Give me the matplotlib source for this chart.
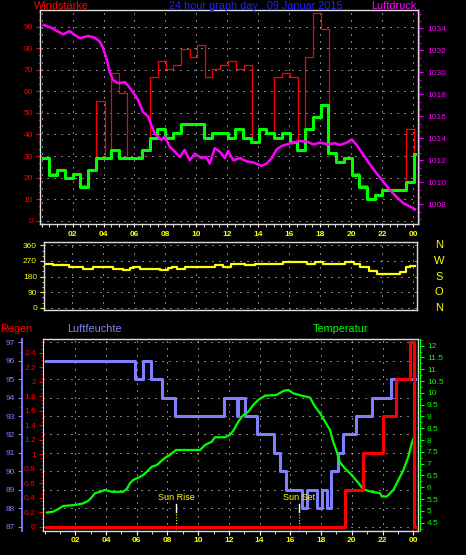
import matplotlib
matplotlib.use('Agg')
from matplotlib import pyplot as plt
from matplotlib.ticker import MultipleLocator, FixedLocator, FixedFormatter
from matplotlib.transforms import blended_transform_factory

plt.rcParams['font.family'] = ['Liberation Sans', 'DejaVu Sans']

# ---- top panel: wind (km/h) and pressure, time in hours ----
wind_time = [0.10, 0.45, 1.0, 1.5, 2.0, 2.5, 3.0, 3.53, 4.5, 5.02,
             6.49, 7.0, 7.48, 8.0, 8.5, 9.03, 10.47, 11.02, 12.03, 12.5,
             13.0, 13.52, 14.04, 14.51, 15.03, 15.54, 16.04, 16.53, 17.03, 17.53,
             18.05, 18.54, 19.04, 19.55, 20.05, 20.54, 21.04, 21.54, 22.03, 23.56,
             24.08, 24.15]
wind_avg = [29.3, 21.2, 23.7, 19.7, 21.5, 15.8, 23.7, 29.2, 32.9, 29.2,
            32.9, 38.5, 42.7, 38.5, 40.8, 44.7, 38.5, 40.8, 38.4, 42.7,
            38.4, 36.7, 42.7, 40.8, 38.4, 40.8, 36.7, 32.8, 42.7, 48.2,
            53.7, 31.3, 27.1, 29.2, 21.2, 15.6, 10.1, 11.9, 14.1, 17.8,
            31.0, 31.0]

gust_time = [0.10, 0.45, 1.0, 1.5, 2.0, 2.5, 3.0, 3.53, 4.07, 4.5,
             5.02, 5.54, 6.49, 7.03, 7.54, 8.06, 8.5, 9.03, 9.57, 10.05,
             10.54, 11.0, 11.53, 12.07, 12.57, 13.07, 13.58, 14.04, 14.51, 15.05,
             15.56, 16.08, 16.58, 17.05, 17.57, 18.08, 18.58, 19.04, 19.55, 20.05,
             20.54, 21.04, 21.54, 22.03, 23.56, 24.1, 24.15]
gust_val = [29.3, 22.2, 24.0, 20.4, 22.2, 16.6, 23.7, 55.4, 29.2, 68.4,
            59.1, 29.2, 33.3, 66.5, 73.9, 70.2, 72.1, 79.5, 75.8, 81.4,
            66.7, 70.2, 72.1, 73.9, 70.2, 72.1, 36.7, 42.7, 40.8, 66.5,
            68.4, 66.5, 32.8, 75.8, 96.3, 88.8, 31.3, 27.5, 29.6, 22.0,
            16.4, 10.7, 12.5, 14.7, 42.4, 31.0, 31.0]

press_time = [0.13, 0.62, 1.05, 1.38, 1.81, 2.13, 2.46, 3.0, 3.43, 3.75,
              3.97, 4.18, 4.4, 4.61, 4.94, 5.37, 5.58, 5.9, 6.23, 6.55,
              6.88, 7.09, 7.31, 7.52, 7.74, 7.95, 8.28, 8.6, 8.93, 9.25,
              9.57, 9.9, 10.33, 10.65, 10.87, 11.19, 11.51, 11.84, 12.05, 12.4,
              12.83, 13.26, 13.69, 14.23, 14.55, 14.88, 15.2, 15.52, 15.85, 16.27,
              16.71, 17.14, 17.57, 18.0, 18.54, 18.97, 19.29, 19.73, 20.05, 20.37,
              20.8, 21.24, 21.67, 22.1, 22.53, 22.96, 23.39, 23.82, 24.15]
press_val = [1024.3, 1024.05, 1023.7, 1023.45, 1023.75, 1023.4, 1023.1, 1023.3, 1023.15, 1022.8,
             1022.2, 1021.3, 1020.05, 1019.3, 1019.0, 1019.1, 1018.8, 1018.2, 1017.5, 1016.4,
             1016.0, 1015.2, 1014.45, 1014.15, 1013.85, 1014.15, 1013.25, 1012.8, 1012.3, 1012.95,
             1012.0, 1012.6, 1012.2, 1012.3, 1011.7, 1013.1, 1012.8, 1012.2, 1012.85, 1012.0,
             1012.2, 1011.9, 1011.8, 1011.5, 1011.7, 1012.2, 1013.0, 1013.3, 1013.45, 1013.6,
             1013.75, 1013.7, 1013.45, 1013.6, 1013.45, 1013.55, 1013.4, 1013.6, 1013.9, 1013.4,
             1012.5, 1011.6, 1010.8, 1010.05, 1009.3, 1008.65, 1008.1, 1007.8, 1007.55]
press_ticks = [1008, 1010, 1012, 1014, 1016, 1018, 1020, 1022, 1024]
press_labels = ['1008', '1010', '1012', '1014', '1016', '1018', '1030', '1032', '1034']

# ---- middle panel: wind direction (deg) ----
dir_time = [0.28, 0.75, 1.77, 2.69, 3.34, 4.63, 5.28, 5.71, 5.93, 6.36,
            7.65, 8.19, 8.41, 8.73, 9.27, 11.21, 11.75, 12.22, 13.15, 13.8,
            15.63, 17.14, 17.68, 18.21, 19.62, 20.16, 20.59, 21.13, 21.67, 23.18,
            23.56, 23.82, 24.15]
dir_val = [252, 248, 236, 224, 236, 224, 215, 228, 236, 224,
           215, 228, 236, 224, 236, 247, 236, 252, 247, 252,
           262, 252, 262, 252, 262, 252, 232, 212, 195, 205,
           232, 241, 241]
compass = ['N', 'W', 'S', 'O', 'N']
compass_deg = [360, 270, 180, 90, 0]

# ---- bottom panel: humidity (%), temperature (C), rain (mm) ----
hum_time = [0.11, 5.87, 6.41, 6.91, 7.64, 8.51, 11.68, 12.51, 12.61, 13.05,
            13.81, 14.95, 15.33, 15.72, 16.74, 17.06, 17.71, 18.04, 18.37, 18.65,
            19.12, 19.45, 20.25, 21.30, 22.55, 24.11]
hum_val = [96, 95, 96, 95, 94, 93, 94, 93, 94, 93,
           92, 91, 90, 89, 88, 89, 88, 89, 88, 90,
           91, 92, 93, 94, 95, 95]

temp_time = [0.14, 0.57, 0.89, 1.22, 1.98, 2.52, 2.85, 3.07, 3.28, 3.61,
             3.93, 4.37, 5.12, 5.35, 5.56, 5.77, 6.10, 6.43, 6.65, 6.97,
             7.30, 7.51, 7.84, 8.16, 8.55, 10.12, 10.44, 10.88, 11.09, 11.74,
             12.07, 12.29, 12.61, 12.94, 13.26, 13.59, 13.91, 14.35, 15.11, 15.54,
             15.87, 16.19, 16.74, 17.28, 17.60, 17.93, 18.26, 18.58, 18.80, 19.0,
             19.21, 19.52, 19.99, 20.42, 20.75, 21.30, 21.84, 21.95, 22.28, 22.71,
             23.03, 23.36, 23.68, 23.90, 24.11]
temp_val = [4.93, 4.97, 5.08, 5.21, 5.25, 5.32, 5.43, 5.58, 5.75, 5.81,
            5.89, 5.81, 5.81, 5.93, 6.17, 6.31, 6.41, 6.52, 6.66, 6.87,
            6.94, 7.06, 7.25, 7.37, 7.58, 7.58, 7.79, 7.93, 8.12, 8.12,
            8.22, 8.40, 8.78, 9.06, 9.20, 9.49, 9.70, 9.88, 9.91, 10.08,
            10.12, 9.98, 9.88, 9.80, 9.42, 9.14, 8.78, 8.43, 7.90, 7.55,
            7.08, 6.82, 6.52, 6.19, 5.91, 5.81, 5.75, 5.61, 5.61, 5.89,
            6.31, 6.73, 7.29, 7.86, 8.22]

rain_time = [0.11, 19.56, 20.75, 22.05, 22.88, 23.82, 24.05, 24.11]
rain_val = [0, 0.51, 1.02, 1.53, 2.04, 2.55, 0, 0]

sun_rise = 8.55
sun_set = 16.58

hour_ticks = list(range(2, 25, 2))
hour_labels = ['%02d' % (h % 24) for h in hour_ticks]

W, H = 466, 555
fig = plt.figure(figsize=(W / 100, H / 100), dpi=100, facecolor='black')


def box(x0, y0, x1, y1):
    return [x0 / W, 1 - y1 / H, (x1 - x0) / W, (y1 - y0) / H]


frame_col = '#dcdcdc'
grid_kw = dict(color='white', linestyle=(0, (1, 6)), linewidth=0.72)
lab_size = 6


def frame(ax):
    ax.set_facecolor('black')
    for s in ax.spines.values():
        s.set_color(frame_col)
        s.set_linewidth(1.0)


def only_spine(ax, side):
    for k, s in ax.spines.items():
        s.set_visible(k == side)


# ---------------- top panel ----------------
ax1 = fig.add_axes(box(40, 10, 418, 224))
frame(ax1)
ax1.step(gust_time, gust_val, where='post', color='red', lw=0.9)
ax1.step(wind_time, wind_avg, where='post', color='#00ff00', lw=2.2)
ax1.set_xlim(-0.11, 24.34)
ax1.set_ylim(-1.53, 97.77)
ax1.xaxis.set_major_locator(MultipleLocator(2))
ax1.xaxis.set_minor_locator(MultipleLocator(0.5))
ax1.yaxis.set_major_locator(MultipleLocator(10))
ax1.yaxis.set_minor_locator(MultipleLocator(10 / 3))
ax1.grid(True, which='major', **grid_kw)
ax1.tick_params(axis='x', which='both', colors='white', length=2.5, labelbottom=False)
ax1.tick_params(axis='y', which='major', colors='red', length=3, pad=2, labelsize=lab_size)
ax1.tick_params(axis='y', which='minor', colors='red', length=1.5)

axp = ax1.twinx()
only_spine(axp, 'right')
axp.spines['right'].set_position(('outward', 0.8))
axp.spines['right'].set_color('#ff00ff')
axp.plot(press_time, press_val, color='#ff00ff', lw=1.8)
axp.set_ylim(1006.21, 1025.66)
axp.yaxis.set_major_locator(FixedLocator(press_ticks))
axp.yaxis.set_major_formatter(FixedFormatter(press_labels))
axp.yaxis.set_minor_locator(MultipleLocator(2 / 3))
axp.tick_params(axis='y', which='major', colors='#ff00ff', length=3, pad=3, labelsize=lab_size)
axp.tick_params(axis='y', which='minor', colors='#ff00ff', length=1.5)

fig.text(34 / W, 1 - 9.3 / H, 'Windstärke', color='red', fontsize=7.8, va='baseline')
fig.text(256 / W, 1 - 9.3 / H, '24 hour graph day : 09 Januar 2015', color='#2020ff',
         fontsize=7.8, va='baseline', ha='center')
fig.text(416 / W, 1 - 9.3 / H, 'Luftdruck', color='#ff00ff', fontsize=7.8, va='baseline', ha='right')

# ---------------- middle panel ----------------
ax2 = fig.add_axes(box(44, 242, 417, 310))
frame(ax2)
ax2.step(dir_time, dir_val, where='post', color='#ffff00', lw=1.6)
ax2.set_xlim(0.17, 24.26)
ax2.set_ylim(-13.2, 379.1)
ax2.xaxis.tick_top()
ax2.set_xticks(hour_ticks)
ax2.set_xticklabels(hour_labels, fontweight='bold')
ax2.yaxis.set_major_locator(MultipleLocator(90))
ax2.yaxis.set_minor_locator(MultipleLocator(30))
ax2.grid(True, which='major', **grid_kw)
ax2.tick_params(axis='x', length=0, pad=3, colors='#ffff00', labelsize=lab_size)
ax2.tick_params(axis='y', which='major', colors='#ffff00', length=3, pad=2, labelsize=lab_size)
ax2.tick_params(axis='y', which='minor', colors='#ffff00', length=1.5)
tr2 = blended_transform_factory(ax2.transAxes, ax2.transData)
for letter, deg in zip(compass, compass_deg):
    ax2.text(1.059, deg, letter, transform=tr2, color='#ffff00', fontsize=8,
             ha='center', va='center')

# ---------------- bottom panel ----------------
ax3 = fig.add_axes(box(42.7, 339, 418, 530.5))
frame(ax3)
ax3.spines['left'].set_position(('outward', 15.1))
ax3.spines['left'].set_color('#8080ff')
ax3.spines['left'].set_linewidth(1.3)
ax3.step(hum_time, hum_val, where='post', color='#8080ff', lw=2.2)
ax3.set_xlim(-0.124, 24.31)
ax3.set_ylim(86.79, 97.18)
ax3.set_xticks(hour_ticks)
ax3.set_xticklabels(hour_labels, fontweight='bold')
ax3.xaxis.set_minor_locator(MultipleLocator(1))
ax3.yaxis.set_major_locator(MultipleLocator(1))
ax3.yaxis.set_minor_locator(MultipleLocator(0.5))
ax3.grid(True, which='major', **grid_kw)
ax3.tick_params(axis='x', which='major', colors='#ffff00', length=3, pad=2, labelsize=lab_size)
ax3.tick_params(axis='x', which='minor', colors='white', length=2)
ax3.tick_params(axis='x', which='major', color='white')
ax3.tick_params(axis='y', which='major', colors='#8080ff', length=3, pad=2, labelsize=lab_size)
ax3.tick_params(axis='y', which='minor', colors='#8080ff', length=1.5)

trs = blended_transform_factory(ax3.transData, ax3.transAxes)
for t, name in [(sun_rise, 'Sun Rise'), (sun_set, 'Sun Set')]:
    ax3.plot([t, t], [0.098, 0.138], transform=trs, color='white', lw=1)
    ax3.plot([t, t], [0.008, 0.098], transform=trs, color='#ffff00', lw=0.8,
             linestyle=(0, (1, 1.5)))
    ax3.text(t, 0.15, name, transform=trs, color='#ffff00', fontsize=6.5,
             ha='center', va='bottom')

axt = ax3.twinx()
only_spine(axt, 'right')
axt.spines['right'].set_position(('outward', 1.4))
axt.spines['right'].set_color('#00ff00')
axt.plot(temp_time, temp_val, color='#00ff00', lw=1.6)
axt.set_ylim(4.17, 12.28)
axt.yaxis.set_minor_locator(MultipleLocator(0.25))
axt.set_yticks([4.5 + 0.5 * i for i in range(16)])
axt.set_yticklabels([('%g' % (4.5 + 0.5 * i)) for i in range(16)])
axt.tick_params(axis='y', which='major', colors='#00ff00', length=3, pad=2, labelsize=lab_size)
axt.tick_params(axis='y', which='minor', colors='#00ff00', length=1.5)

axr = ax3.twinx()
only_spine(axr, 'left')
axr.spines['left'].set_color(frame_col)
axr.yaxis.tick_left()
axr.step(rain_time, rain_val, where='post', color='red', lw=2.2)
axr.set_ylim(-0.052, 2.589)
axr.yaxis.set_minor_locator(MultipleLocator(0.05))
axr.set_yticks([0.2 * i for i in range(13)])
axr.set_yticklabels(['%g' % round(0.2 * i, 1) for i in range(13)])
axr.tick_params(axis='y', which='major', colors='red', length=3, pad=2, labelsize=lab_size)
axr.tick_params(axis='y', which='minor', colors='red', length=1.5)

fig.text(0 / W, 1 - 331.5 / H, 'Regen', color='red', fontsize=7.8, va='baseline')
fig.text(67 / W, 1 - 331.5 / H, 'Luftfeuchte', color='#8080ff', fontsize=7.8, va='baseline')
fig.text(313 / W, 1 - 331.5 / H, 'Temperatur', color='#00ff00', fontsize=7.8, va='baseline')

fig.savefig('out.png', dpi=100, facecolor='black')
